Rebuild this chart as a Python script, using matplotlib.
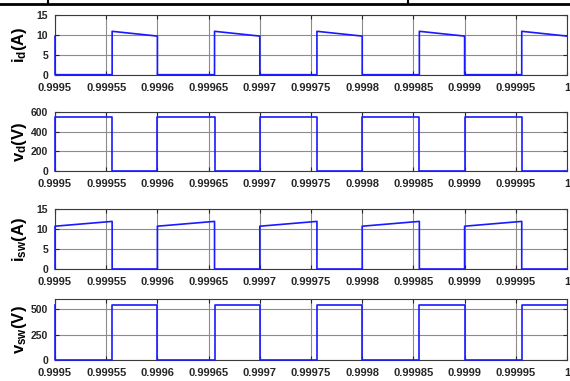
import matplotlib
matplotlib.use("Agg")
import matplotlib.pyplot as plt
import numpy as np

# ---- data ----
period_starts = [0.9995, 0.9996, 0.9997, 0.9998, 0.9999]
on_ends = [0.9995558, 0.9996558, 0.9997558, 0.9998558, 0.9999558]
t_end = 1.0
id_peak = [10.9, 10.9, 10.9, 10.9, 10.9]
id_low = [9.7, 9.7, 9.7, 9.7, 9.7]
isw_start = [10.7, 10.7, 10.7, 10.7, 10.7]
isw_peak = [11.9, 11.9, 11.9, 11.9, 11.9]
vd_high = 545
vsw_high = 545
id_prev_end = 9.7

xticks = [0.9995, 0.99955, 0.9996, 0.99965, 0.9997, 0.99975, 0.9998,
          0.99985, 0.9999, 0.99995, 1.0]
xticklabels = ['0.9995', '0.99955', '0.9996', '0.99965', '0.9997', '0.99975',
               '0.9998', '0.99985', '0.9999', '0.99995', '1']
yticks_list = [[0, 5, 10, 15], [0, 200, 400, 600], [0, 5, 10, 15], [0, 250, 500]]
ylims = [(0, 15), (0, 600), (0, 15), (0, 600)]
ylabels = [r'$\mathrm{i_{d}(A)}$', r'$\mathrm{v_{d}(V)}$',
           r'$\mathrm{i_{sw}(A)}$', r'$\mathrm{v_{sw}(V)}$']

# ---- build waveforms from the read values ----
nxt = period_starts[1:] + [t_end]
t_id, y_id = [period_starts[0]], [id_prev_end]
t_id += [period_starts[0]]; y_id += [0]
t_isw, y_isw = [period_starts[0]], [0]
t_vd, y_vd = [period_starts[0]], [0]
t_vsw, y_vsw = [period_starts[0]], [vsw_high]
for s, e, n, ip, il, i0, i1 in zip(period_starts, on_ends, nxt, id_peak, id_low, isw_start, isw_peak):
    t_id += [e, e, n]; y_id += [0, ip, il]
    if n < t_end:
        t_id += [n]; y_id += [0]
    t_isw += [s, e, e, n]; y_isw += [i0, i1, 0, 0]
    t_vd += [s, e, e, n]; y_vd += [vd_high, vd_high, 0, 0]
    t_vsw += [s, s, e, e, n]; y_vsw += [vsw_high, 0, 0, vsw_high, vsw_high]

series = [(t_id, y_id), (t_vd, y_vd), (t_isw, y_isw), (t_vsw, y_vsw)]

plt.rcParams['font.family'] = ['Liberation Sans', 'DejaVu Sans']
plt.rcParams['font.weight'] = 'bold'
plt.rcParams['mathtext.fontset'] = 'custom'
plt.rcParams['mathtext.rm'] = 'Liberation Sans:bold'
plt.rcParams['mathtext.it'] = 'Liberation Sans:bold'
plt.rcParams['mathtext.bf'] = 'Liberation Sans:bold'

W, H = 570, 381
fig = plt.figure(figsize=(W / 100, H / 100), dpi=100)

boxes = [(15, 74.7), (112, 171), (209, 269), (299, 360)]
left, right = 55, 567
for i, ((top, bot), (tt, yy)) in enumerate(zip(boxes, series)):
    ax = fig.add_axes([left / W, 1 - bot / H, (right - left) / W, (bot - top) / H])
    ax.plot(tt, yy, color='#1a1aff', lw=1.2, clip_on=False, zorder=3)
    ax.set_xlim(xticks[0], xticks[-1])
    ax.set_ylim(*ylims[i])
    ax.set_xticks(xticks)
    ax.set_xticklabels(xticklabels)
    ax.set_yticks(yticks_list[i])
    ax.grid(True, color='#8c8c8c', lw=0.8)
    ax.tick_params(direction='in', length=3, width=0.8, top=True, right=True,
                   colors='#262626')
    ax.tick_params(axis='x', pad=6, labelsize=8)
    ax.tick_params(axis='y', pad=5, labelsize=7.5)
    for lab in ax.get_xticklabels() + ax.get_yticklabels():
        lab.set_fontweight('bold')
    for sp in ax.spines.values():
        sp.set_color('#3a3a3a')
        sp.set_linewidth(0.8)
    ax.set_ylabel(ylabels[i], fontsize=12)
    ax.yaxis.set_label_coords(-26 / (right - left), 0.5)

# table fragment at the top
fig.add_artist(plt.Line2D([0, 1], [1 - 4 / H, 1 - 4 / H], color='black', lw=2))
for xx in [48, 408]:
    fig.add_artist(plt.Line2D([xx / W, xx / W], [1, 1 - 4 / H], color='black', lw=1.5))

fig.savefig('out.png', dpi=100)
